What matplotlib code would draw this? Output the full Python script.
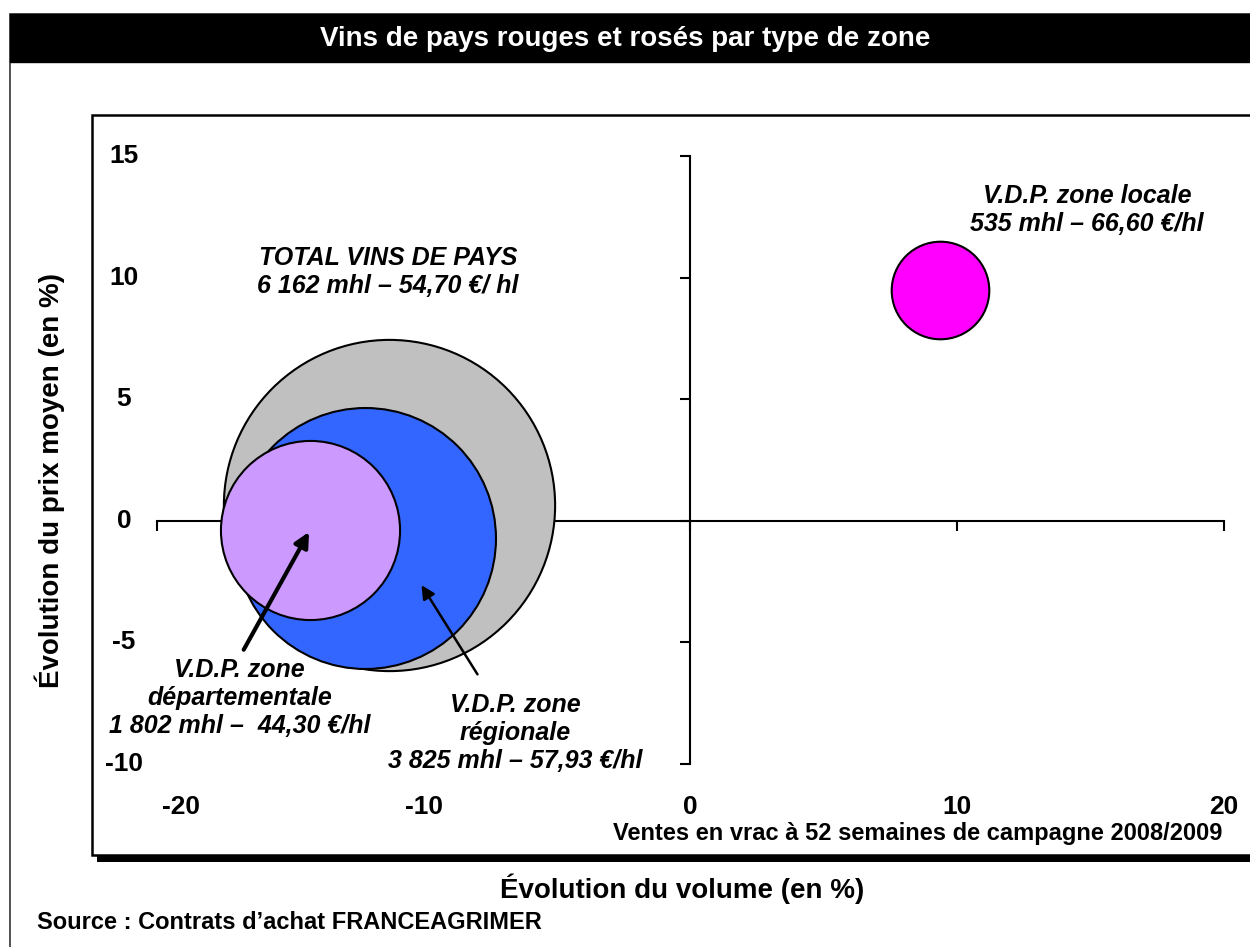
import matplotlib

matplotlib.use("Agg")
import matplotlib.pyplot as plt  # noqa: E402
import matplotlib.transforms as mtransforms  # noqa: E402
from matplotlib.patches import Rectangle  # noqa: E402

plt.rcParams["font.family"] = ["Liberation Sans", "DejaVu Sans"]
plt.rcParams["font.weight"] = "bold"

# Données
zones = ["TOTAL VINS DE PAYS", "V.D.P. zone régionale", "V.D.P. zone départementale", "V.D.P. zone locale"]
volume_evol = [-11.3, -12.2, -14.25, 9.36]      # évolution du volume (%)
price_evol = [0.66, -0.70, -0.36, 9.51]         # évolution du prix moyen (%)
volumes_mhl = [6162, 3825, 1802, 535]           # taille des bulles
colors = ["#C0C0C0", "#3366FF", "#CC99FF", "#FF00FF"]
bubble_texts = [
    "TOTAL VINS DE PAYS\n6 162 mhl – 54,70 €/ hl",
    "V.D.P. zone\nrégionale\n3 825 mhl – 57,93 €/hl",
    "V.D.P. zone\ndépartementale\n1 802 mhl –  44,30 €/hl",
    "V.D.P. zone locale\n535 mhl – 66,60 €/hl",
]
x_ticks = [-20, -10, 0, 10, 20]
y_ticks = [-10, -5, 0, 5, 10, 15]

W, H = 1250, 947


def fx(px):
    return px / W


def fy(py):
    return 1 - py / H


fig = plt.figure(figsize=(W / 100, H / 100), dpi=100)
fig.patch.set_facecolor("white")

# cadre extérieur + bandeau titre
fig.patches.append(Rectangle((fx(10), fy(960)), fx(1260) - fx(10), fy(14) - fy(960),
                             transform=fig.transFigure, fill=False, edgecolor="#333333",
                             linewidth=1.2, zorder=0))
fig.patches.append(Rectangle((fx(10), fy(62)), fx(1260) - fx(10), fy(14) - fy(62),
                             transform=fig.transFigure, facecolor="black", edgecolor="black", zorder=1))
fig.text(fx(625), fy(39), "Vins de pays rouges et rosés par type de zone", color="white",
         fontsize=20, fontweight="bold", ha="center", va="center")

# zone de tracé avec ombre
fig.patches.append(Rectangle((fx(97), fy(862)), fx(1270) - fx(97), fy(120) - fy(862),
                             transform=fig.transFigure, facecolor="black", edgecolor="none", zorder=1))
fig.patches.append(Rectangle((fx(92), fy(855)), fx(1262) - fx(92), fy(115) - fy(855),
                             transform=fig.transFigure, facecolor="white", edgecolor="black",
                             linewidth=1.8, zorder=2))

ax = fig.add_axes([fx(157), fy(764), fx(1224) - fx(157), fy(156) - fy(764)])
ax.set_facecolor("none")
ax.set_zorder(3)
ax.set_xlim(-20, 20)
ax.set_ylim(-10, 15)
for side in ("top", "right"):
    ax.spines[side].set_visible(False)
ax.spines["left"].set_position(("data", 0))
ax.spines["bottom"].set_position(("data", 0))
for side in ("left", "bottom"):
    ax.spines[side].set_linewidth(1.5)
ax.set_xticks(x_ticks)
ax.set_yticks(y_ticks)
ax.tick_params(direction="out", length=7, width=1.5, labelleft=False, labelbottom=False)

# bulles (surface proportionnelle au volume)
sizes = [9.23 * v for v in volumes_mhl]
for x, y, s, c in zip(volume_evol, price_evol, sizes, colors):
    ax.scatter(x, y, s=s, color=c, edgecolors="black", linewidths=1.5, zorder=3)

# étiquettes des graduations (en bord de cadre, comme Excel)
ytr = mtransforms.blended_transform_factory(fig.transFigure, ax.transData)
for v in y_ticks:
    ax.text(fx(124), v, f"{v}", transform=ytr, ha="center", va="center", fontsize=19)
xtr = mtransforms.blended_transform_factory(ax.transData, fig.transFigure)
for v in x_ticks:
    if v == x_ticks[0]:
        ax.text(v + 0.2, fy(807), f"{v}", transform=xtr, ha="left", va="center", fontsize=19)
    else:
        ax.text(v, fy(807), f"{v}", transform=xtr, ha="center", va="center", fontsize=19)

fig.text(fx(1222), fy(833), "Ventes en vrac à 52 semaines de campagne 2008/2009",
         ha="right", va="center", fontsize=17)

# textes des bulles
text_pos = [(-11.34, 10.24), (-6.58, -8.72), (-16.9, -7.28), (14.86, 12.79)]
for (tx, ty), txt in zip(text_pos, bubble_texts):
    ax.text(tx, ty, txt, ha="center", va="center", fontsize=18, fontstyle="italic",
            fontweight="bold", linespacing=1.2, zorder=5)

# flèches
ax.annotate("", xy=(volume_evol[2], price_evol[2]), xytext=(-16.8, -5.4),
            arrowprops=dict(arrowstyle="-|>", color="black", lw=3, mutation_scale=22), zorder=6)
ax.annotate("", xy=(-10.14, -2.55), xytext=(-7.93, -6.41),
            arrowprops=dict(arrowstyle="-|>", color="black", lw=1.8, mutation_scale=20), zorder=6)

fig.text(fx(682), fy(889), "Évolution du volume (en %)", ha="center", va="center", fontsize=20)
fig.text(fx(50), fy(480), "Évolution du prix moyen (en %)", ha="center", va="center",
         rotation=90, fontsize=20)
fig.text(fx(37), fy(922), "Source : Contrats d’achat FRANCEAGRIMER", ha="left", va="center",
         fontsize=17)

fig.savefig("out.png", dpi=100)
